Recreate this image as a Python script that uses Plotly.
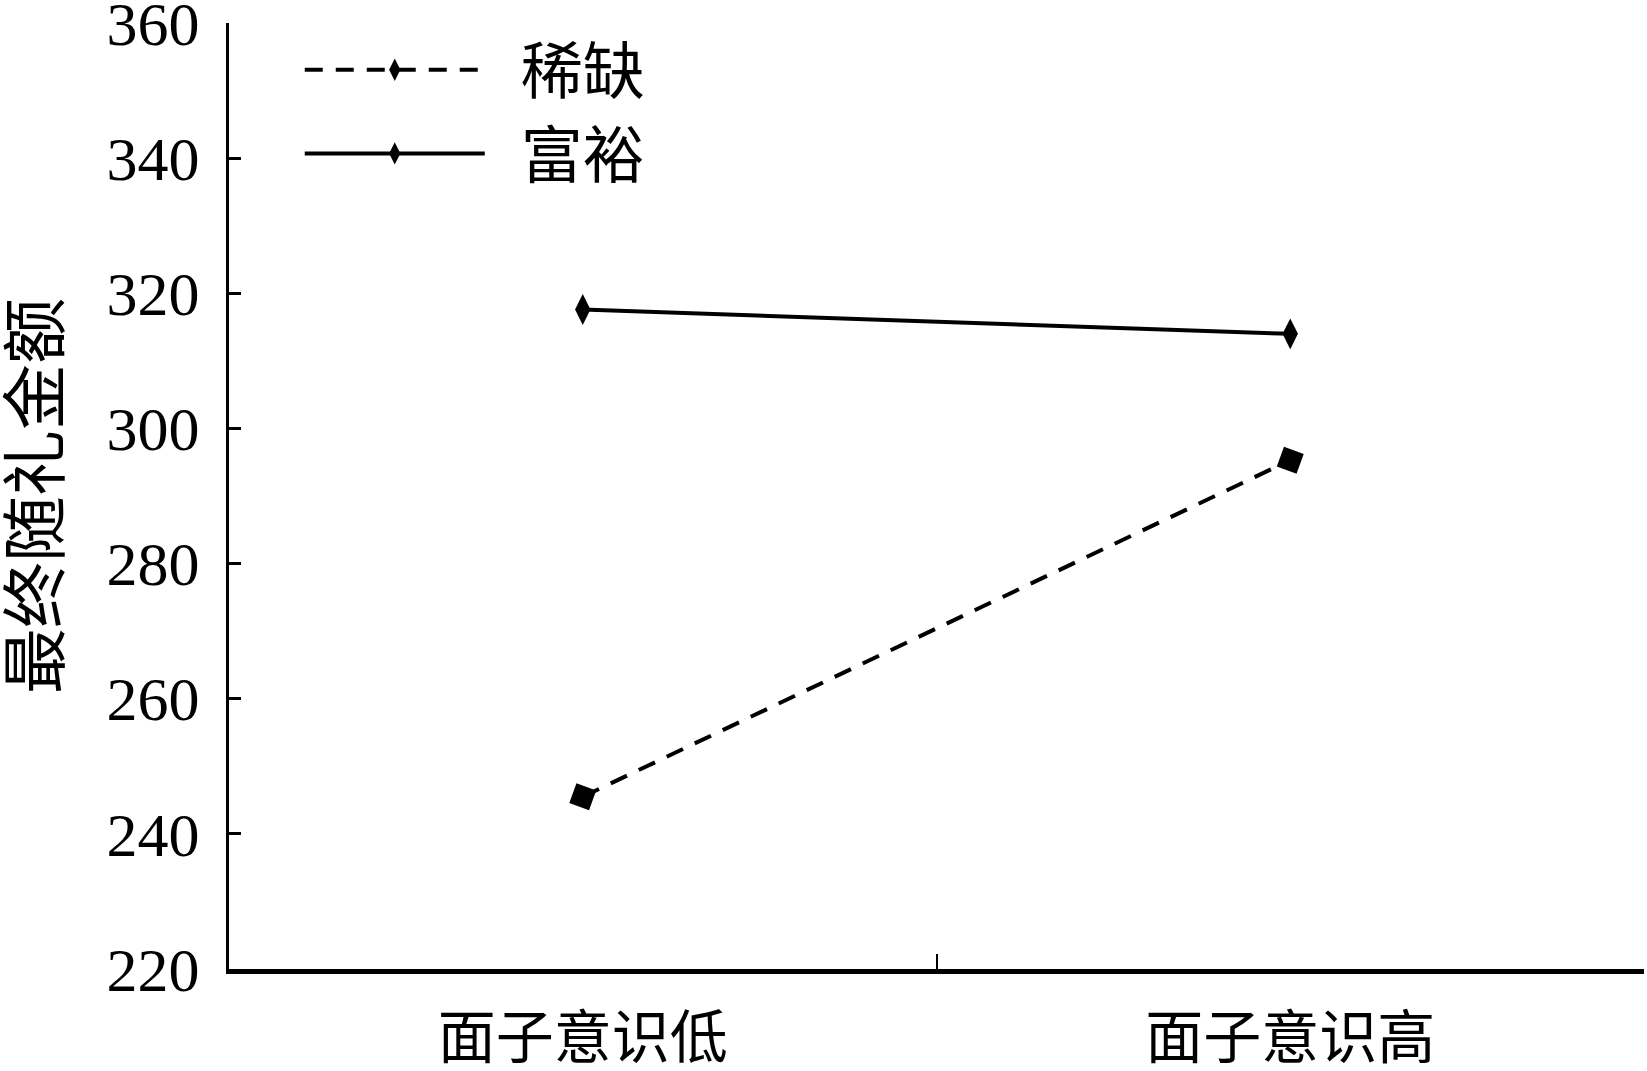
import plotly.graph_objects as go

categories = ["面子意识低", "面子意识高"]
scarce = [245.5, 295.3]
rich = [317.6, 314.0]
y_ticks = [220, 240, 260, 280, 300, 320, 340, 360]

SERIF = "Liberation Serif, Noto Sans CJK SC"
NBSP = "\u00a0" * 2

fig = go.Figure()

# data traces
fig.add_trace(go.Scatter(
    x=categories, y=scarce, mode="lines+markers", showlegend=False,
    line=dict(color="black", width=4, dash="18px,13px"),
    marker=dict(symbol="square", size=21, angle=20, color="black"),
))
fig.add_trace(go.Scatter(
    x=categories, y=rich, mode="lines+markers", showlegend=False,
    line=dict(color="black", width=4),
    marker=dict(symbol="diamond-tall", size=22, color="black"),
))

# legend entries
fig.add_trace(go.Scatter(
    x=[None], y=[None], mode="lines+markers", name=NBSP + "稀缺",
    line=dict(color="black", width=4, dash="18px,13px"),
    marker=dict(symbol="diamond-tall", size=22, color="black"),
))
fig.add_trace(go.Scatter(
    x=[None], y=[None], mode="lines+markers", name=NBSP + "富裕",
    line=dict(color="black", width=4),
    marker=dict(symbol="diamond-tall", size=22, color="black"),
))

fig.update_layout(
    width=1647, height=1071,
    margin=dict(l=229, r=3, t=23, b=102),
    paper_bgcolor="white", plot_bgcolor="white",
    font=dict(family=SERIF, color="black"),
    legend=dict(
        x=0.05, y=1.0, xanchor="left", yanchor="top",
        font=dict(size=62, family=SERIF), itemwidth=180,
        bgcolor="rgba(0,0,0,0)", tracegroupgap=0,
    ),
    xaxis=dict(
        type="category", range=[-0.5, 1.5], automargin=False,
        showline=True, linecolor="black", linewidth=5,
        ticks="inside", tickson="boundaries", ticklen=15, tickwidth=2, tickcolor="black",
        showgrid=False, zeroline=False,
        tickfont=dict(size=58, family=SERIF),
        ticklabelstandoff=14, ticklabeloverflow="allow",
    ),
    yaxis=dict(
        range=[220, 360], tickvals=y_ticks, automargin=False,
        showline=True, linecolor="black", linewidth=3,
        ticks="inside", ticklen=12, tickwidth=3, tickcolor="black",
        showgrid=False, zeroline=False,
        tickfont=dict(size=62, family=SERIF),
        ticklabelstandoff=14, ticklabeloverflow="allow",
        title=dict(text="最终随礼金额", font=dict(size=66, family=SERIF), standoff=40),
    ),
)

fig.write_html(
    "out.html",
    config={"displayModeBar": False},
    post_script="document.body.style.margin = '0';",
)
